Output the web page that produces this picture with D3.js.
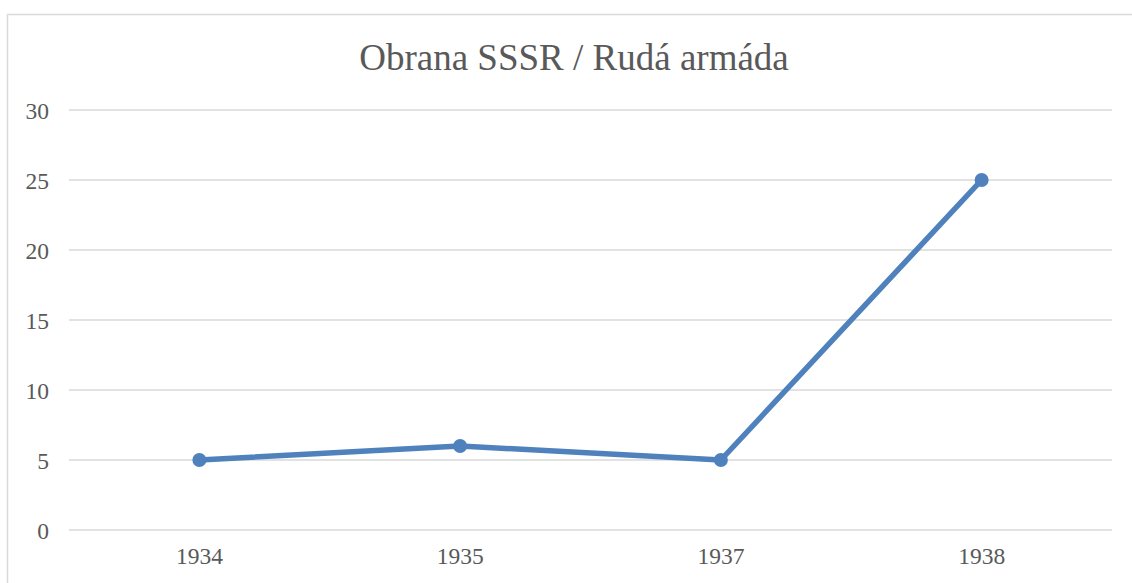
<!DOCTYPE html>
<html>
<head>
    <meta charset="UTF-8">
    <title>Obrana SSSR / Rudá armáda</title>
    <style>
        body { margin: 0; background: #fff; }
        svg { font-family: "Liberation Serif", "Times New Roman", serif; }
        .grid line { stroke: #d9d9d9; stroke-width: 1.5; }
        .axis text { fill: #595959; font-size: 23.5px; font-family: "Liberation Serif", "Times New Roman", serif; }
    </style>
</head>
<body>
<svg id="chart" width="1132" height="583"></svg>
<script src="https://d3js.org/d3.v7.min.js"></script>
<script>
    let years = ['1934', '1935', '1937', '1938'];
    let values = [5, 6, 5, 25];
    let yTicks = [0, 5, 10, 15, 20, 25, 30];

    let margin = {top: 110, right: 20, bottom: 53, left: 69};
    let width = 1112 - margin.left;
    let height = 530 - margin.top;

    let svg = d3.select('#chart');

    // chart frame
    svg.append('rect')
        .attr('x', 7.5).attr('y', 14.5)
        .attr('width', 1140).attr('height', 600)
        .attr('fill', 'none')
        .attr('stroke', '#d9d9d9')
        .attr('stroke-width', 1.5);

    svg.append('text')
        .attr('x', 574).attr('y', 70)
        .attr('text-anchor', 'middle')
        .attr('fill', '#595959')
        .style('font-size', '37px')
        .text('Obrana SSSR / Rudá armáda');

    let canvas = svg.append('g')
        .attr('transform', 'translate(' + margin.left + ',' + margin.top + ')');

    let x = d3.scaleBand().domain(years).range([0, width]);
    let y = d3.scaleLinear().domain([0, 30]).range([height, 0]);

    canvas.append('g')
        .attr('class', 'grid')
        .selectAll('line')
        .data(yTicks)
        .enter().append('line')
        .attr('x1', 0).attr('x2', width)
        .attr('y1', d => y(d)).attr('y2', d => y(d));

    let yAxis = canvas.append('g')
        .attr('class', 'axis')
        .attr('transform', 'translate(-20,0)')
        .call(d3.axisLeft(y).tickValues(yTicks).tickSize(0).tickPadding(0));
    yAxis.select('.domain').remove();
    yAxis.selectAll('text').attr('dy', '0.35em');

    let xAxis = canvas.append('g')
        .attr('class', 'axis')
        .attr('transform', 'translate(0,' + height + ')')
        .call(d3.axisBottom(x).tickSize(0).tickPadding(17));
    xAxis.select('.domain').remove();

    let line = d3.line()
        .x((d, i) => x(years[i]) + x.bandwidth() / 2)
        .y(d => y(d));

    canvas.append('path')
        .datum(values)
        .attr('fill', 'none')
        .attr('stroke', '#4f81bd')
        .attr('stroke-width', 5.5)
        .attr('stroke-linejoin', 'round')
        .attr('d', line);

    canvas.selectAll('.dot')
        .data(values)
        .enter().append('circle')
        .attr('class', 'dot')
        .attr('cx', (d, i) => x(years[i]) + x.bandwidth() / 2)
        .attr('cy', d => y(d))
        .attr('r', 7)
        .attr('fill', '#4f81bd');
</script>
</body>
</html>
